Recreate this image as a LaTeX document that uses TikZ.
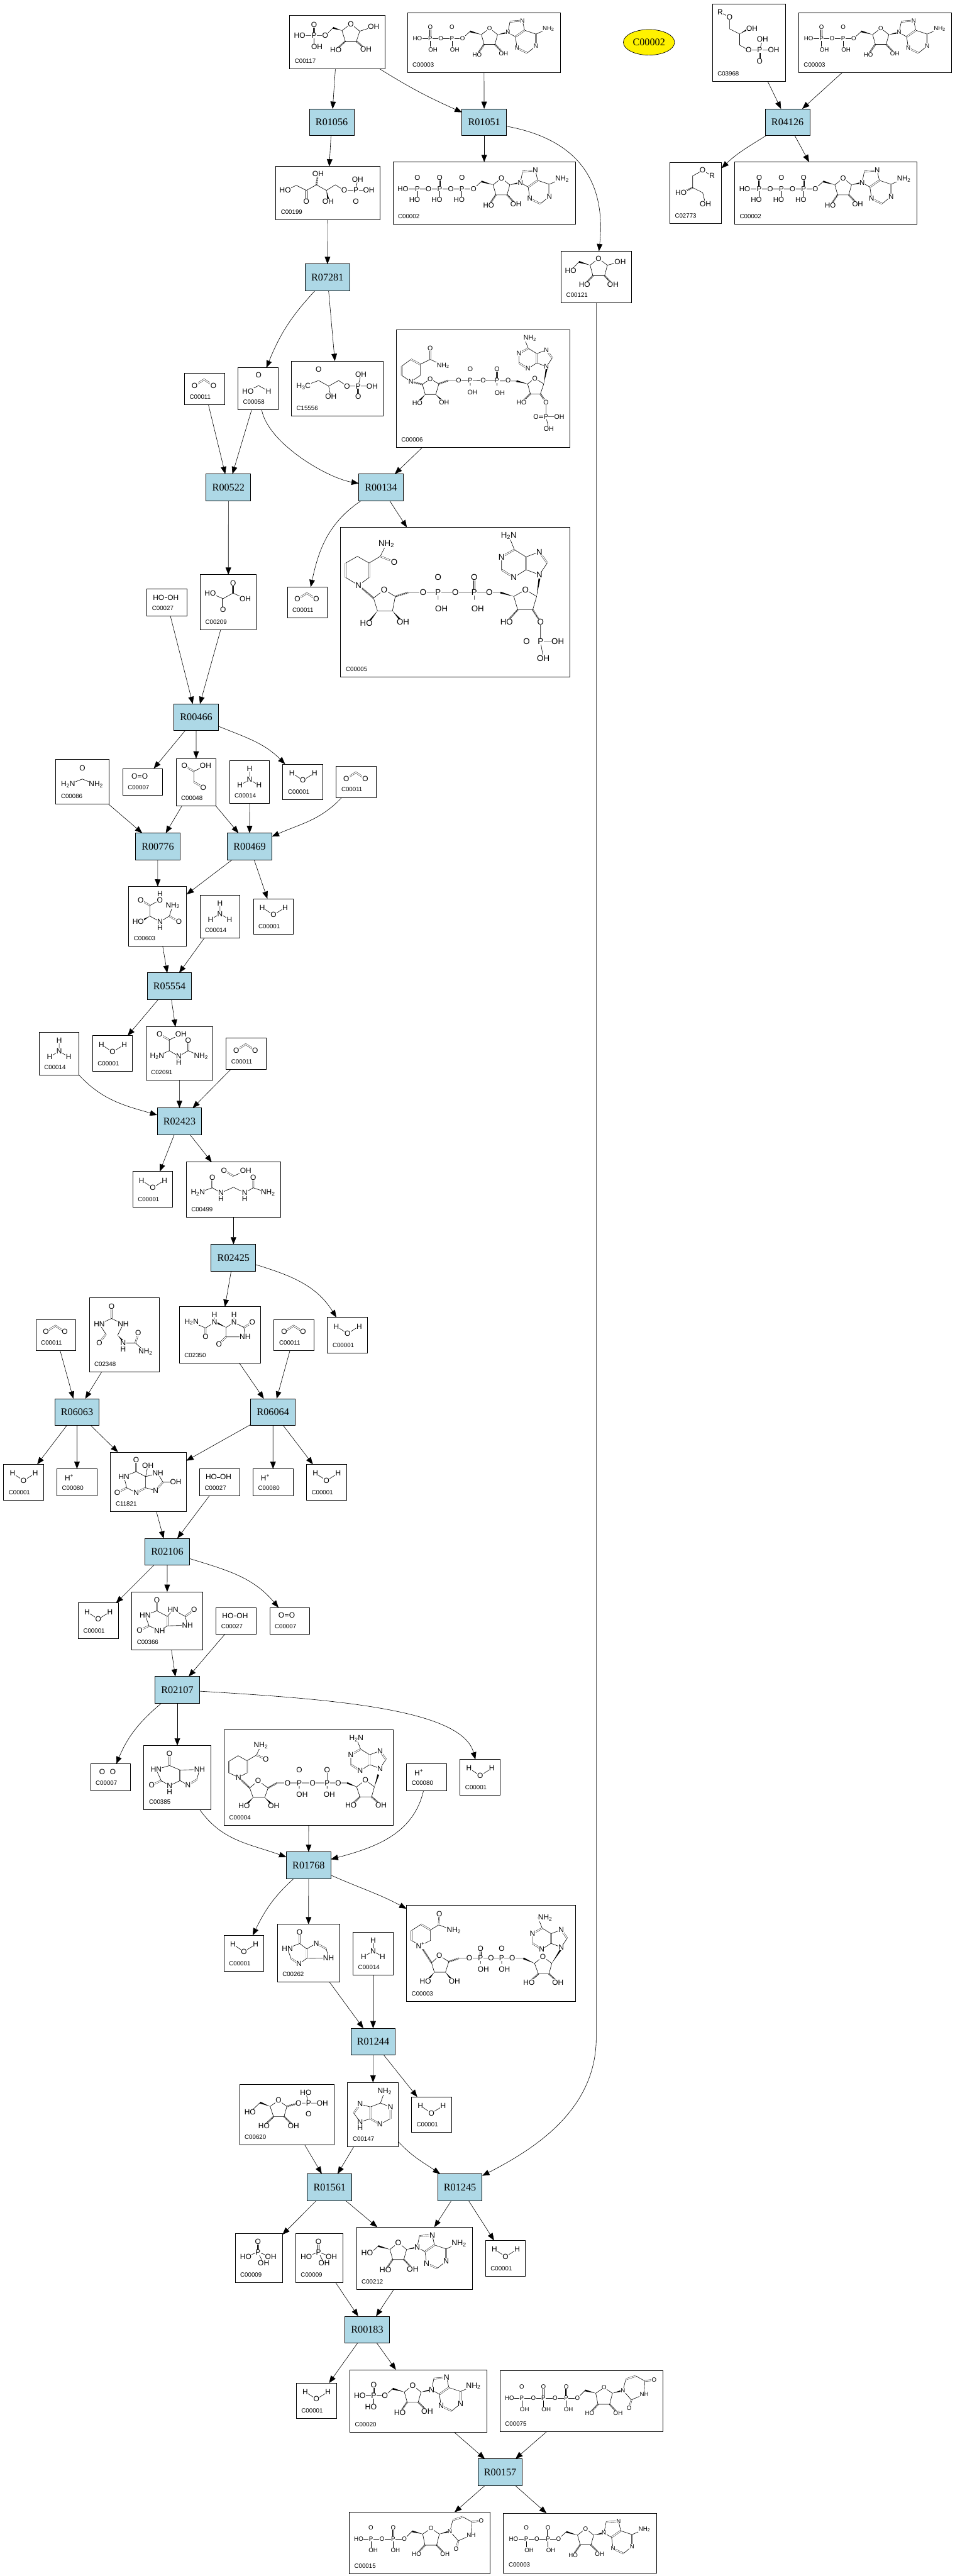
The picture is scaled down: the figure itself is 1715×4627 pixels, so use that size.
\documentclass[tikz,border=0pt]{standalone}
\usepackage{fontspec}
\setmainfont{Liberation Sans}
\newfontfamily\rxnfont{Liberation Serif}
\usetikzlibrary{positioning,calc,arrows.meta,shapes.geometric}
\def\asz{13.5}
\tikzset{
  rxn/.style={draw,fill=lightblue,line width=1.1pt,minimum width=80pt,minimum height=48pt,inner sep=0pt,outer sep=0pt,font=\rxnfont\fontsize{18.3}{20}\selectfont},
  query/.style={draw,ellipse,fill=yellow,line width=.8pt,minimum width=92pt,minimum height=46pt,inner sep=0pt,font=\rxnfont\fontsize{18.3}{20}\selectfont},
  cpdbox/.style={draw,anchor=north west,line width=1.1pt,inner sep=0pt,outer sep=0pt},
  cpdcode/.style={anchor=west,inner sep=0pt,font=\fontsize{11}{11}\selectfont},
  link/.style={-{Triangle[length=13pt,width=10pt]},line width=.7pt},
  atom/.style={fill=white,inner sep=.5pt,font=\fontsize{\asz}{\asz}\selectfont},
  bond/.style={line width=.7pt},
  dbl/.style={line width=.5pt,double,double distance=1.8pt},
  hash/.style={line width=3pt,dash pattern=on .7pt off 1pt}
}
\definecolor{lightblue}{HTML}{ADD8E6}
\newcommand{\atoms}[1]{\foreach \ax/\ay/\atxt [count=\ai] in {#1} {\node[atom] (a\ai) at (\ax,\ay) {\atxt};}}
\newcommand{\wdg}[2]{\fill (#1) -- ($(#2)!1.6pt!90:(#1)$) -- ($(#2)!1.6pt!-90:(#1)$) -- cycle;}
\newcommand{\edge}[3][]{\draw[link] (#2) to[#1] (#3);}
\newcommand{\cpd}[7]{\node[cpdbox,minimum width=#4pt,minimum height=#5pt] (#1) at (#2,#3) {};
   \begin{scope}[shift={(#2,#3)}]
   \csname mol#7\endcsname
   \end{scope}
   \node[cpdcode] (#1t) at ($(#1.south west)+(9,-14)$) {#6};}
\newcommand{\phos}[4]{\draw[dbl] (#1,#2) -- +(0,-20);
   \draw[bond] (#1,#2) -- +(0,15);
   \node[atom] (pp) at (#1,#2) {P};
   \node[atom] (po) at (#1,{#2-20}) {O};
   \node[atom] (ph) at ({#1+#3},{#2+20}) {#4};}
\newcommand{\ado}[3]{\begin{scope}[shift={(#1,#2)},scale=#3]
   \draw[bond] (0,0)--(14,-13);
   \wdg{35,-7}{14,-13}
   \wdg{65,-7}{84,-11}
   \draw[bond] (35,-7)--(50,-19)--(65,-7)--(60,11)--(40,11)--cycle;
   \draw[hash] (40,11)--(27,30) (60,11)--(76,28);
   \draw[bond] (84,-11)--(88,-31) (111,-33)--(115,-15)--(136,-8)--(159,-18) (98,-3)--(84,-11) (136,14)--(120,27);
   \draw[dbl] (88,-31)--(111,-33) (115,-15)--(98,-3) (136,-8)--(136,14) (120,27)--(101,18);
   \draw[bond] (101,18)--(98,-3);
   \atoms{50/-19/O,84/-11/N,111/-33/N,159/-18/NH\textsubscript{2},136/14/N,101/18/N,27/30/HO,76/28/OH}
   \end{scope}}
\newcommand{\uri}[2]{\begin{scope}[shift={(#1,#2)}]
   \draw[bond] (0,0)--(14,-14);
   \wdg{33,-9}{14,-14}
   \wdg{63,-9}{82,-14}
   \draw[bond] (33,-9)--(48,-19)--(63,-9)--(58,11)--(37,11)--cycle;
   \draw[hash] (37,11)--(22,27) (58,11)--(73,27);
   \draw[bond] (82,-14)--(87,-34) (105,-40)--(121,-31)--(120,-7)--(97,3)--(82,-14);
   \draw[dbl] (87,-34)--(105,-40) (121,-31)--(138,-33) (97,3)--(93,18);
   \atoms{48/-19/O,82/-14/N,138/-33/O,120/-7/NH,93/18/O,22/27/HO,73/27/OH}
   \end{scope}}
\newcommand{\adn}[5]{\begin{scope}[shift={(#1,#2)},scale=#3]
   \draw[bond] (0,0)--(-24,-9)--(-46,5) (0,0)--(14,-21) (0,-41)--(-24,-32)--(-45,-45)--(-55,-70) (-68,-9)--(-68,-32);
   \draw[dbl] (14,-21)--(0,-41) (-24,-32)--(-24,-9) (-46,5)--(-68,-9) (-68,-32)--(-45,-45);
   \atoms{0/0/N,0/-41/N,-68/-32/N,-46/5/N}
   \node[atom] (an) at ({-55+#4},-70) {#5};
   \end{scope}}
\newcommand{\molwater}{\draw[bond] (16,16)--(36,29)--(57,16); \atoms{16/16/H,36/29/O,57/16/H}}
\newcommand{\molcarbdi}{\draw[dbl] (18,22)--(35,11)--(52,22); \atoms{18/22/O,52/22/O}}
\newcommand{\molformate}{\draw[dbl] (37,13)--(37,32); \draw[bond] (18,42)--(37,32)--(55,42); \atoms{37/13/O,18/42/HO,55/42/H}}
\newcommand{\molproton}{\atoms{22/16/H\textsuperscript{+}}}
\newcommand{\molhooh}{\draw[bond] (21,15)--(47,15); \atoms{21/15/HO,47/15/OH}}
\newcommand{\moloxy}{\draw[dbl] (21,14)--(40,14); \atoms{21/14/O,40/14/O}}
\newcommand{\molammonia}{\draw[bond] (36,15)--(36,34) (19,44)--(36,34)--(53,44); \atoms{36/15/H,36/34/N,19/44/H,53/44/H}}
\newcommand{\molurea}{\draw[dbl] (47.5,15)--(47.5,35); \draw[bond] (22,45)--(47.5,35)--(72,45); \atoms{47.5/15/O,22/45/H\textsubscript{2}N,72/45/NH\textsubscript{2}}}
\newcommand{\molglyox}{\draw[dbl] (15,13)--(32,23) (32,42)--(49,52); \draw[bond] (53,12.5)--(32,23)--(32,42); \atoms{15/13/O,53/12.5/OH,49/52/O}}
\newcommand{\moloxal}{\draw[dbl] (59,15)--(59,33) (41,43)--(41,63); \draw[bond] (81,43)--(59,33)--(41,43)--(18,33); \atoms{59/15/O,81/43/OH,41/63/O,18/33/HO}}
\newcommand{\molphosph}{\draw[dbl] (41,14.5)--(41,33); \draw[bond] (19,41)--(41,33)--(64,41) (41,33)--(51,53); \atoms{41/14.5/O,41/33/P,19/41/HO,64/41/OH,51/53/OH}}
\newcommand{\molribp}{\draw[bond] (18,36)--(64,36)--(78,22); \phos{44}{36}{5}{OH}
   \wdg{94,27}{78,22}
   \draw[bond] (94,27)--(110,15)--(126,28)--(120,46)--(100,46)--cycle (126,28)--(151,20);
   \draw[hash] (100,46)--(83,62) (120,46)--(137,61);
   \atoms{18/36/HO,64/36/O,110/15/O,83/62/HO,137/61/OH,151/20/OH}}
\newcommand{\molribo}{\draw[bond] (17,35)--(32,19);
   \wdg{52,25}{32,19}
   \draw[bond] (52,25)--(67,13)--(83,25)--(78,44)--(57,44)--cycle (83,25)--(106,19);
   \draw[hash] (57,44)--(42,60) (78,44)--(93,60);
   \atoms{17/35/HO,67/13/O,42/60/HO,93/60/OH,106/19/OH}}
\newcommand{\molrup}{\draw[bond] (17,43)--(37,34)--(55,43)--(73,33)--(91,43)--(107,33)--(123,43)--(167,43) (144,43)--(147,23);
   \draw[dbl] (55,43)--(55,63) (144,43)--(144,63);
   \draw[hash] (73,33)--(76,13);
   \wdg{91,43}{94,58}
   \atoms{17/43/HO,55/63/O,76/13/OH,94/63/OH,123/43/O,144/43/P,147/23/OH,167/43/OH,144/63/O}}
\newcommand{\molketop}{\draw[bond] (22,45)--(49,35)--(67,45)--(85,35)--(100,45)--(145,45) (67,45)--(71,64) (120,45)--(125,24);
   \draw[dbl] (49,35)--(49,15) (120,45)--(120,64);
   \atoms{22/45/H\textsubscript{3}C,49/15/O,71/64/OH,100/45/O,120/45/P,125/24/OH,145/45/OH,120/64/O}}
\newcommand{\molgpr}{\draw[bond] (14,15)--(31,24)--(31,45)--(49,54)--(49,74)--(65,83)--(110,83) (85,83)--(90,64);
   \draw[dbl] (85,83)--(85,103);
   \wdg{49,54}{66,44}
   \atoms{14/15/R,31/24/O,71/44/OH,65/83/O,85/83/P,90/64/OH,110/83/OH,85/103/O}}
\newcommand{\molgro}{\draw[bond] (76,24)--(59,14)--(41,24)--(41,45)--(59,54)--(64,74);
   \draw[hash] (41,45)--(22,54);
   \atoms{59/14/O,76/24/R,20/54/HO,64/74/OH}}
\newcommand{\molatp}{\def\asz{13}\draw[bond] (18,48)--(145,48);
   \phos{44}{48}{-5}{HO}\phos{84}{48}{-5}{HO}\phos{124}{48}{-5}{HO}
   \ado{145}{48}{1}
   \atoms{18/48/HO,64/48/O,104/48/O,145/48/O}}
\newcommand{\moladp}{\def\asz{11}\draw[bond] (18,46)--(99,46);
   \phos{41}{46}{5}{OH}\phos{80}{46}{5}{OH}
   \ado{99}{46}{.97}
   \atoms{18/46/HO,60/46/O,99/46/O}}
\newcommand{\molamp}{\def\asz{14}\draw[bond] (18,47)--(63,47);
   \phos{43}{47}{-5}{HO}
   \ado{63}{47}{1}
   \atoms{18/47/HO,63/47/O}}
\newcommand{\moladeno}{\def\asz{14}\ado{25}{47}{1}
   \atoms{19/46/HO}}
\newcommand{\molutp}{\def\asz{11}\draw[bond] (17,49)--(139,49);
   \phos{39}{49}{5}{OH}\phos{78}{49}{5}{OH}\phos{119}{49}{4}{OH}
   \uri{139}{49}
   \atoms{17/49/HO,60/49/O,99/49/O,139/49/O}}
\newcommand{\moludp}{\def\asz{11}\draw[bond] (17,48)--(99,48);
   \phos{39}{48}{4}{OH}\phos{79}{48}{4}{OH}
   \uri{99}{48}
   \atoms{17/48/HO,59/48/O,99/48/O}}
\newcommand{\molnadph}{\def\asz{15}
   \draw[bond] (32,104)--(9,90) (9,64)--(30,52)--(51,64) (51,90)--(32,104) (51,64)--(71,52)--(82,30);
   \draw[dbl] (9,90)--(9,64) (51,64)--(51,90) (71,52)--(96,62);
   \draw[hash] (32,104)--(59,127) (98,124)--(121,117) (318,148)--(298,170) (345,148)--(359,170);
   \draw[bond] (59,127)--(78,112)--(98,124)--(93,150)--(66,150)--cycle (121,117)--(287,117) (175,117)--(175,130) (240,117)--(240,130);
   \wdg{66,150}{52,168}
   \wdg{93,150}{106,165}
   \wdg{311,124}{287,117}
   \wdg{352,124}{357,92}
   \draw[bond] (311,124)--(332,112)--(352,124)--(345,148)--(318,148)--cycle (359,170)--(359,205)--(390,205) (359,205)--(364,235);
   \draw[dbl] (175,117)--(175,90) (240,117)--(240,90) (359,205)--(334,205);
   \adn{357}{85}{1}{0}{H\textsubscript{2}N}
   \atoms{32/104/N,82/30/NH\textsubscript{2},96/62/O,78/112/O,46/172/HO,112/170/OH,148/117/O,175/117/P,175/90/O,181/146/OH,206/117/O,240/117/P,240/90/O,246/146/OH,267/117/O,332/112/O,298/170/HO,359/170/O,359/205/P,334/205/O,390/205/OH,364/235/OH}}
\newcommand{\molnadp}{\def\asz{12}
   \draw[bond] (26.5,93)--(10,82) (10,65)--(26.5,53) (43,62)--(43,82)--(26.5,93) (43,62)--(61,53)--(84,64);
   \draw[dbl] (10,82)--(10,65) (26.5,53)--(43,62) (61,53)--(61,33);
   \draw[hash] (26.5,93)--(47,98) (76.5,97)--(93,91) (241,115)--(225,130) (259,115)--(269,130);
   \draw[bond] (47,98)--(61,88)--(76.5,97)--(71,116)--(52,116)--cycle (93,91)--(216,92) (133,91)--(133,100) (181,91)--(181,100);
   \wdg{52,116}{42,127}
   \wdg{71,116}{82,127}
   \wdg{236,97}{216,92}
   \wdg{265,97}{270,70}
   \draw[bond] (236,97)--(249,87)--(265,97)--(259,115)--(241,115)--cycle (269,130)--(269,156)--(293,156) (269,156)--(274,178);
   \draw[dbl] (133,91)--(133,70) (181,91)--(181,70) (269,156)--(251,156);
   \adn{270}{66}{.73}{14}{NH\textsubscript{2}}
   \atoms{26.5/93/N,61/33/O,84/64/NH\textsubscript{2},61/88/O,38/131/HO,86/130/OH,112/91/O,133/91/P,133/70/O,137/112/OH,156/91/O,181/91/P,181/70/O,186/113/OH,201/91/O,249/87/O,225/130/HO,269/130/O,269/156/P,251/156/O,293/156/OH,274/178/OH}}
\newcommand{\molnadh}{\def\asz{13.5}
   \draw[bond] (26,85)--(9,77) (9,56)--(25,46)--(41,55) (41,77)--(26,85) (41,55)--(58,45)--(66,28);
   \draw[dbl] (9,77)--(9,56) (41,55)--(41,77) (58,45)--(75,52);
   \draw[hash] (26,85)--(46,104) (79,104)--(95,95) (244,120)--(228,135) (265,120)--(282,135);
   \draw[bond] (46,104)--(61,91)--(79,104)--(73,121)--(52,121)--cycle (95,95)--(221,95) (135,95)--(135,105) (185,95)--(185,105);
   \wdg{52,121}{42,132}
   \wdg{73,121}{84,132}
   \wdg{238,102}{221,95}
   \wdg{270,102}{277,80}
   \draw[bond] (238,102)--(254,90)--(270,102)--(265,120)--(244,120)--cycle;
   \draw[dbl] (135,95)--(135,72) (185,95)--(185,72);
   \adn{280}{69}{.77}{0}{H\textsubscript{2}N}
   \atoms{26/85/N,66/28/NH\textsubscript{2},75/52/O,61/91/O,36/136/HO,89/136/OH,114/95/O,135/95/P,135/72/O,140/116/OH,159/95/O,185/95/P,185/72/O,189/116/OH,205/95/O,254/90/O,228/135/HO,282/135/OH}}
\newcommand{\molnadplus}{\def\asz{13.5}
   \draw[bond] (25,72)--(9,63) (9,45)--(26,34) (43,44)--(43,63)--(25,72) (43,44)--(58,35)--(85,45);
   \draw[dbl] (9,63)--(9,45) (26,34)--(43,44) (58,35)--(59,15);
   \draw[hash] (25,72)--(45,103) (76,101)--(94,95) (237,123)--(220,138) (256,123)--(272,138);
   \draw[bond] (45,103)--(59,90)--(76,101)--(70,120)--(50,120)--cycle (94,95)--(210,95) (133,95)--(133,105) (171,95)--(171,105);
   \wdg{50,120}{40,132}
   \wdg{70,120}{80,132}
   \wdg{230,104}{210,95}
   \wdg{261,104}{278,78}
   \draw[bond] (230,104)--(245,92)--(261,104)--(256,123)--(237,123)--cycle;
   \draw[dbl] (133,95)--(133,77) (171,95)--(171,77);
   \adn{278}{75}{.76}{17}{NH\textsubscript{2}}
   \atoms{25/72/N\textsuperscript{+},59/15/O,85/45/NH\textsubscript{2},59/90/O,34/136/HO,86/136/OH,113/95/O,133/95/P,133/77/O,138/115/OH,152/95/O,171/95/P,171/77/O,176/115/OH,190/95/O,245/92/O,220/138/HO,272/138/OH}}
\newcommand{\molureido}{\draw[dbl] (21.5,24)--(38,34) (73,53)--(90,63);
   \draw[bond] (56,13.6)--(56,24)--(38,34)--(38,53)--(56,63)--(56,74) (56,63)--(73,53)--(79,34);
   \wdg{38,53}{24,61}
   \atoms{56/13.6/H,56/24/O,21.5/24/O,17/63/HO,56/63/N,56/74/H,79/34/NH\textsubscript{2},90/63/O}}
\newcommand{\moldiamino}{\draw[dbl] (24.5,13.6)--(42,23.6) (76,43)--(76,24);
   \draw[bond] (63,13)--(42,23.6)--(42,43)--(20,53) (42,43)--(59,53)--(59,64) (59,53)--(76,43)--(99,53);
   \atoms{24.5/13.6/O,63/13/OH,20/53/H\textsubscript{2}N,59/53/N,59/64/H,76/24/O,99/53/NH\textsubscript{2}}}
\newcommand{\molallantoate}{\draw[dbl] (68,15)--(85,25) (47,46)--(47,28) (120.5,46)--(120.5,28);
   \draw[bond] (85,25)--(107,15) (21,55)--(47,46)--(62.5,55)--(85,45)--(105,55)--(120.5,46)--(147,55) (62.5,55)--(62.5,66) (105,55)--(105,66);
   \atoms{68/15/O,107/15/OH,62.5/55/N,62.5/66/H,47/28/O,21/55/H\textsubscript{2}N,105/55/N,105/66/H,120.5/28/O,147/55/NH\textsubscript{2}}}
\newcommand{\moloxoallan}{\draw[dbl] (40,15)--(40,37) (30,65)--(18,81) (83,81)--(88,63);
   \draw[bond] (18,47)--(40,37)--(61,47)--(51,67) (18,47)--(30,65) (61,81)--(61,92) (61,81)--(83,81)--(101,97);
   \wdg{51,67}{61,78}
   \atoms{40/15/O,18/47/HN,61/47/NH,18/81/O,61/81/N,61/92/H,88/63/O,101/97/NH\textsubscript{2}}}
\newcommand{\molallantoin}{\draw[dbl] (47,38)--(47,54) (116,37)--(131,28) (84,54)--(71,67);
   \draw[bond] (22,27)--(47,38)--(63,28)--(63,14) (84,37)--(98,28)--(116,37)--(118,54)--(84,54)--(84,37) (98,28)--(98,14);
   \wdg{84,37}{66,28}
   \atoms{22/27/H\textsubscript{2}N,47/54/O,63/28/N,63/14/H,98/28/N,98/14/H,131/28/O,118/54/NH,71/67/O}}
\newcommand{\molhiu}{\draw[dbl] (46,14)--(46,35) (29,64)--(12,73) (46,73)--(63,64) (94,54)--(81,69);
   \draw[bond] (46,35)--(24,44)--(29,64)--(46,73) (63,64)--(63,44)--(46,35) (63,44)--(67,24) (63,44)--(85,38)--(94,54)--(117,54) (81,69)--(63,64);
   \atoms{46/14/O,24/44/HN,12/73/O,46/73/N,67/24/OH,85/38/NH,117/54/OH,81/69/N}}
\newcommand{\moluric}{\draw[dbl] (45,15)--(45,34) (31,61)--(14,69) (64,61)--(64,44) (96,44)--(112,32);
   \draw[bond] (45,34)--(24,42)--(31,61)--(50,70)--(64,61)--(100,60)--(96,44)--(74,32)--(64,44)--(45,34);
   \atoms{45/15/O,24/42/HN,14/69/O,50/70/NH,74/32/HN,112/32/O,100/60/NH}}
\newcommand{\molxanthine}{\draw[dbl] (46,15)--(46,36) (31,63)--(14,71) (65,63)--(65,44) (95,61)--(79,71);
   \draw[bond] (46,36)--(22,43)--(31,63)--(46,72)--(65,63)--(79,71) (46,72)--(46,83) (65,44)--(46,36) (65,44)--(100,43)--(95,61);
   \atoms{46/15/O,22/43/HN,14/71/O,46/72/N,46/83/H,100/43/NH,79/71/N}}
\newcommand{\molhypox}{\draw[dbl] (40,14.5)--(40,34.5) (24.5,61)--(39,71) (70,34)--(88,44) (53,61)--(53,44);
   \draw[bond] (40,34.5)--(18,43)--(24.5,61) (39,71)--(53,61)--(92,60.5)--(88,44) (70,34)--(53,44)--(40,34.5);
   \atoms{40/14.5/O,18/43/HN,39/71/N,70/34/N,92/60.5/NH}}
\newcommand{\moladenine}{\draw[bond] (66.5,16)--(59,37)--(77,44) (77,65)--(58,75) (41,65)--(22.5,71)--(22.5,82) (41,44)--(22.5,39) (11,55)--(22.5,71) (41,44)--(59,37);
   \draw[dbl] (77,44)--(77,65) (58,75)--(41,65) (41,65)--(41,44) (22.5,39)--(11,55);
   \atoms{66.5/16/NH\textsubscript{2},77/44/N,58/75/N,22.5/39/N,22.5/71/N,22.5/82/H}}
\newcommand{\molribop}{\wdg{55,40}{37,33}
   \draw[bond] (19,50)--(37,33) (55,40)--(70,29)--(85,40)--(80,58)--(61,58)--cycle (106,34)--(149,34) (124,34)--(119,15);
   \draw[dbl] (124,34)--(124,54);
   \draw[hash] (85,40)--(106,34) (61,58)--(44,75) (80,58)--(97,75);
   \atoms{70/29/O,19/50/HO,44/75/HO,97/75/OH,106/34/O,124/34/P,119/15/HO,149/34/OH,124/54/O}}
\begin{document}
\begin{tikzpicture}[x=1pt,y=-1pt]
   \useasboundingbox (0,0) rectangle (1715,4627);
   \node[query] (c00002) at (1166,76) {C00002};
   \node[rxn] (r1056) at (596,219.5) {R01056};
   \node[rxn] (r1051) at (870,219.5) {R01051};
   \node[rxn] (r4126) at (1415,219.5) {R04126};
   \node[rxn] (r7281) at (588.3,498.3) {R07281};
   \node[rxn] (r522) at (410.5,875.3) {R00522};
   \node[rxn] (r134) at (684.5,875.3) {R00134};
   \node[rxn] (r466) at (352.5,1288.4) {R00466};
   \node[rxn] (r776) at (283.5,1520.4) {R00776};
   \node[rxn] (r469) at (448.5,1520.4) {R00469};
   \node[rxn] (r5554) at (304.5,1771.4) {R05554};
   \node[rxn] (r2423) at (322.5,2014.2) {R02423};
   \node[rxn] (r2425) at (419.5,2259.3) {R02425};
   \node[rxn] (r6063) at (138.4,2536.3) {R06063};
   \node[rxn] (r6064) at (490.5,2536.3) {R06064};
   \node[rxn] (r2106) at (300.5,2787.3) {R02106};
   \node[rxn] (r2107) at (318.6,3035.3) {R02107};
   \node[rxn] (r1768) at (554.5,3350.3) {R01768};
   \node[rxn] (r1244) at (670.4,3667.2) {R01244};
   \node[rxn] (r1561) at (592.3,3928.6) {R01561};
   \node[rxn] (r1245) at (826.4,3928.6) {R01245};
   \node[rxn] (r183) at (659.7,4184.4) {R00183};
   \node[rxn] (r157) at (898.7,4440.4) {R00157};
   \cpd{c117}{520.4}{28}{171}{96}{C00117}{ribp}
   \cpd{c3a}{732}{23}{275}{107}{C00003}{adp}
   \cpd{c2a}{706}{291}{328}{112}{C00002}{atp}
   \cpd{c199}{495.5}{299}{187}{96}{C00199}{rup}
   \cpd{c121}{1008.3}{451.3}{126}{93}{C00121}{ribo}
   \cpd{c3968}{1280}{7}{131}{139}{C03968}{gpr}
   \cpd{c3b}{1435}{23}{275}{107}{C00003}{adp}
   \cpd{c2773}{1203.5}{292}{93}{110}{C02773}{gro}
   \cpd{c2b}{1320}{291}{328}{112}{C00002}{atp}
   \cpd{c11a}{331.6}{670.6}{72}{56}{C00011}{carbdi}
   \cpd{c58}{427.5}{660.6}{72}{75}{C00058}{formate}
   \cpd{c15556}{523.5}{648.5}{165}{99}{C15556}{ketop}
   \cpd{c6}{712}{592.5}{312.5}{211}{C00006}{nadp}
   \cpd{c209}{359.7}{1032.3}{101}{99}{C00209}{oxal}
   \cpd{c11b}{516.3}{1054.4}{72}{56}{C00011}{carbdi}
   \cpd{c5}{612.2}{947.3}{411.3}{269}{C00005}{nadph}
   \cpd{c27a}{264}{1058.3}{72}{48}{C00027}{hooh}
   \cpd{c86}{100.4}{1364.3}{96}{80}{C00086}{urea}
   \cpd{c7a}{220.4}{1380.4}{72}{48}{C00007}{oxy}
   \cpd{c48}{316.3}{1362.5}{72}{85}{C00048}{glyox}
   \cpd{c14a}{412.3}{1366.4}{72}{77}{C00014}{ammonia}
   \cpd{c1a}{508.3}{1372.5}{72}{64}{C00001}{water}
   \cpd{c11c}{604.2}{1376.4}{72}{56}{C00011}{carbdi}
   \cpd{c603}{231.3}{1592.5}{104}{107}{C00603}{ureido}
   \cpd{c14b}{359.3}{1607.5}{72}{77}{C00014}{ammonia}
   \cpd{c1b}{455.3}{1614.3}{72}{64}{C00001}{water}
   \cpd{c14c}{70.3}{1854.3}{72}{77}{C00014}{ammonia}
   \cpd{c1c}{166.3}{1860.4}{72}{64}{C00001}{water}
   \cpd{c2091}{262.2}{1844.3}{120}{96}{C02091}{diamino}
   \cpd{c11d}{406.4}{1864.6}{72}{56}{C00011}{carbdi}
   \cpd{c1d}{238.5}{2104.3}{72}{64}{C00001}{water}
   \cpd{c499}{334.5}{2087.5}{170}{99}{C00499}{allantoate}
   \cpd{c11e}{64.5}{2370.3}{72}{56}{C00011}{carbdi}
   \cpd{c2348}{160.4}{2331.3}{126}{133}{C02348}{oxoallan}
   \cpd{c2350}{322.3}{2347.3}{146}{101}{C02350}{allantoin}
   \cpd{c11f}{492.5}{2370.3}{72}{56}{C00011}{carbdi}
   \cpd{c1e}{588.4}{2366.3}{72}{64}{C00001}{water}
   \cpd{c1f}{6.4}{2630.3}{72}{64}{C00001}{water}
   \cpd{c80a}{102.3}{2638.3}{72}{48}{C00080}{proton}
   \cpd{c11821}{198.7}{2608.3}{136}{107}{C11821}{hiu}
   \cpd{c27b}{358.6}{2638.3}{72}{48}{C00027}{hooh}
   \cpd{c80b}{454.6}{2638.3}{72}{48}{C00080}{proton}
   \cpd{c1g}{550.6}{2630.3}{72}{64}{C00001}{water}
   \cpd{c1h}{140.5}{2879.3}{72}{64}{C00001}{water}
   \cpd{c366}{236.8}{2859.3}{127}{104}{C00366}{uric}
   \cpd{c27c}{388.4}{2887.5}{72}{48}{C00027}{hooh}
   \cpd{c7b}{484.6}{2887.5}{72}{48}{C00007}{oxy}
   \cpd{c7c}{162.7}{3168.2}{72}{48}{C00007}{oxy}
   \cpd{c385}{258.6}{3135.3}{120}{115}{C00385}{xanthine}
   \cpd{c4}{402.7}{3107.5}{304}{171}{C00004}{nadh}
   \cpd{c80c}{730.5}{3168.2}{72}{48}{C00080}{proton}
   \cpd{c1i}{826.7}{3160.3}{72}{64}{C00001}{water}
   \cpd{c1j}{402.4}{3476.4}{72}{64}{C00001}{water}
   \cpd{c262}{498.3}{3456.5}{112}{104}{C00262}{hypox}
   \cpd{c14d}{634.4}{3470.5}{72}{77}{C00014}{ammonia}
   \cpd{c3c}{730.4}{3422.5}{304}{173}{C00003}{nadplus}
   \cpd{c620}{430.4}{3743.6}{170}{109}{C00620}{ribop}
   \cpd{c147}{624.6}{3740.5}{91}{115}{C00147}{adenine}
   \cpd{c1k}{739.3}{3766.5}{72}{64}{C00001}{water}
   \cpd{c9a}{422.5}{4012.3}{85}{88}{C00009}{phosph}
   \cpd{c9b}{531.3}{4012.3}{85}{88}{C00009}{phosph}
   \cpd{c212}{640.6}{4000.4}{208}{112}{C00212}{adeno}
   \cpd{c1l}{872.3}{4024.2}{72}{64}{C00001}{water}
   \cpd{c1m}{532.4}{4280.3}{72}{64}{C00001}{water}
   \cpd{c20}{628.5}{4256.5}{246}{112}{C00020}{amp}
   \cpd{c75}{898.4}{4258.6}{293}{109}{C00075}{utp}
   \cpd{c15}{627.5}{4512.6}{253}{110}{C00015}{udp}
   \cpd{c3d}{904.7}{4514.3}{275}{107}{C00003}{adp}
   \edge{c117}{r1056}
   \edge[out=-32,in=156]{c117}{r1051}
   \edge{c3a}{r1051}
   \edge{r1051}{c2a}
   \draw[link] (r1051) .. controls (1010,245) and (1092,300) .. (c121);
   \edge{r1056}{c199}
   \edge{c199}{r7281}
   \edge{c3968}{r4126}
   \edge{c3b}{r4126}
   \edge[out=-148,in=44]{r4126}{c2773}
   \edge{r4126}{c2b}
   \edge[out=-133,in=68]{r7281}{c58}
   \edge{r7281}{c15556}
   \edge{c11a}{r522}
   \edge{c58}{r522}
   \edge[out=-80,in=170,looseness=.7]{c58}{r134}
   \edge{c6}{r134}
   \edge{r522}{c209}
   \edge[out=-146,in=78]{r134}{c11b}
   \edge{r134}{c5}
   \edge{c209}{r466}
   \edge{c27a}{r466}
   \edge{r466}{c7a}
   \edge{r466}{c48}
   \edge[out=-22,in=135]{r466}{c1a}
   \edge{c86}{r776}
   \edge{c48}{r776}
   \edge{c48}{r469}
   \edge{c14a}{r469}
   \edge[out=-133,in=24]{c11c}{r469}
   \edge{r776}{c603}
   \edge{r469}{c603}
   \edge{r469}{c1b}
   \edge{c603}{r5554}
   \edge{c14b}{r5554}
   \edge{r5554}{c1c}
   \edge{r5554}{c2091}
   \edge[out=-47,in=164]{c14c}{r2423}
   \edge{c2091}{r2423}
   \edge{c11d}{r2423}
   \edge{r2423}{c1d}
   \edge{r2423}{c499}
   \edge{c499}{r2425}
   \edge{r2425}{c2350}
   \edge[out=-17,in=122]{r2425}{c1e}
   \edge{c11e}{r6063}
   \edge{c2348}{r6063}
   \edge{c2350}{r6064}
   \edge{c11f}{r6064}
   \edge{r6063}{c1f}
   \edge{r6063}{c80a}
   \edge{r6063}{c11821}
   \edge{r6064}{c11821}
   \edge{r6064}{c80b}
   \edge{r6064}{c1g}
   \edge{c11821}{r2106}
   \edge{c27b}{r2106}
   \edge{r2106}{c1h}
   \edge{r2106}{c366}
   \edge[out=-17,in=130]{r2106}{c7b}
   \edge{c366}{r2107}
   \edge{c27c}{r2107}
   \edge[out=-140,in=67]{r2107}{c7c}
   \edge{r2107}{c385}
   \draw[link] (r2107) .. controls (600,3052) and (830,3070) .. (c1i);
   \edge[out=-55,in=160]{c385}{r1768}
   \edge{c4}{r1768}
   \edge[out=-103,in=15]{c80c}{r1768}
   \edge[out=-138,in=64]{r1768}{c1j}
   \edge{r1768}{c262}
   \edge[out=-24,in=152]{r1768}{c3c}
   \edge{c262}{r1244}
   \edge{c14d}{r1244}
   \edge{r1244}{c147}
   \edge{r1244}{c1k}
   \edge{c620}{r1561}
   \edge{c147}{r1561}
   \edge[out=-47,in=146]{c147}{r1245}
   \coordinate (c121low) at (1071.3,3660);
   \draw[link] (c121) -- (c121low) .. controls (1071.3,3790) and (960,3860) .. (r1245);
   \edge{r1561}{c9a}
   \edge{r1561}{c212}
   \edge{r1245}{c212}
   \edge{r1245}{c1l}
   \edge{c9b}{r183}
   \edge{c212}{r183}
   \edge{r183}{c1m}
   \edge{r183}{c20}
   \edge{c20}{r157}
   \edge{c75}{r157}
   \edge{r157}{c15}
   \edge{r157}{c3d}
\end{tikzpicture}
\end{document}
